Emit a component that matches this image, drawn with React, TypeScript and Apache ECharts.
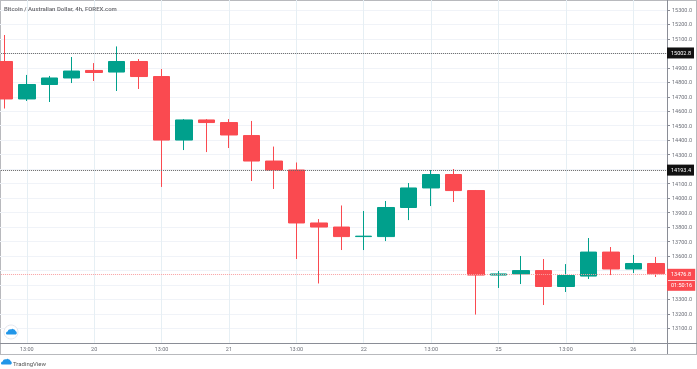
import React, { useEffect, useRef } from "react";
import * as echarts from "echarts";

const categories = ["19","13:00","","","20","","","13:00","","","21","","","13:00","","","22","","","13:00","","","25","","","13:00","","","26",""];
const opens = [14944,14685,14785,14830,14882,14871,14944,14840,14401,14540,14522,14432,14256,14194,13828,13800,13734,13734,13935,14070,14163,14052,13468,13476,13499,13389,13461,13627,13510,13548];
const closes = [14685,14785,14830,14878,14868,14944,14840,14401,14540,14522,14436,14256,14194,13828,13800,13734,13737,13935,14070,14163,14052,13468,13476,13499,13389,13465,13627,13510,13548,13476.8];
const lows = [14619,14671,14664,14795,14809,14740,14754,14077,14332,14318,14346,14118,14063,13579,13410,13641,13641,13703,13848,13945,13973,13195,13379,13406,13261,13351,13441,13468,13482,13455];
const highs = [15127,14851,14844,14975,14933,15048,14961,14892,14546,14546,14546,14533,14356,14246,13855,13949,13911,13980,14104,14194,14201,14056,13496,13600,13579,13544,13724,13662,13607,13593];
const yTicksMin = 13000;
const yTicksMax = 15400;
const coveredTicks = new Set([15000, 14200, 13500, 13400]);
const levels = [15002.8, 14193.4];
const lastPrice = 13476.8;
const countdown = "01:50:16";
const labelled = new Set([1,4,7,10,13,16,19,22,25,28]);

const UP = "#00a08c";
const DOWN = "#fa4a50";
const logo = "M0 9 C0 7 1.5 6 3 6 C3.5 3 6 1.5 8.5 2.5 C9.5 1 12 1 13 2.5 C14.5 2 16 3.5 15.5 5 C17 5.5 18 7 18 8.5 C18 10 17 11 15.5 11 L2 11 C1 11 0 10 0 9 Z";

const DX = 7;
const DY = 5;

export default function App() {
  const ref = useRef<HTMLDivElement>(null);
  useEffect(() => {
    document.body.style.margin = "0";
    document.body.style.background = "#fff";
    echarts.graphic.registerShape("tvlogo", echarts.graphic.extendPath(logo, {}));
    const chart = echarts.init(ref.current!, undefined, { renderer: "svg" });
    const data = opens.map((o, i) => [o, closes[i], lows[i], highs[i]]);
    const font = "Roboto, Arial, sans-serif";
    chart.setOption({
      animation: false,
      grid: { left: 0.1, right: 30, top: 0.5, bottom: 26.2 },
      xAxis: {
        type: "category",
        data: categories,
        boundaryGap: true,
        axisLine: { lineStyle: { color: "#8a8d96", width: 1 } },
        axisTick: { show: false },
        axisLabel: { interval: (i: number) => labelled.has(i), fontSize: 5.5, color: "#6e717a", fontFamily: font, margin: 3 },
        splitLine: { show: true, alignWithLabel: true, interval: (i: number) => labelled.has(i), lineStyle: { color: "#e6eff4" } },
      },
      yAxis: {
        type: "value",
        position: "right",
        min: yTicksMin,
        max: yTicksMax,
        interval: 100,
        axisLine: { show: true, lineStyle: { color: "#8a8d96" } },
        axisTick: { show: true, length: 3, lineStyle: { color: "#8a8d96" } },
        axisLabel: { showMinLabel: false, showMaxLabel: false, fontSize: 5.5, color: "#6e717a", fontFamily: font, margin: 5, formatter: (v: number) => (coveredTicks.has(v) ? "" : v.toFixed(1)) },
        splitLine: { show: true, lineStyle: { color: "#f0f3f8" } },
      },
      series: [{
        type: "candlestick",
        data,
        barWidth: 17,
        clip: true,
        itemStyle: { color: UP, color0: DOWN, borderColor: UP, borderColor0: DOWN, borderWidth: 1, opacity: 1 },
        markLine: {
          silent: true,
          symbol: "none",
          animation: false,
          data: [
            ...levels.map((v) => ({
              yAxis: v,
              lineStyle: { color: "#666", type: [1, 1], width: 1 },
              label: { show: true, position: "end", distance: 0, formatter: v.toFixed(1), backgroundColor: "#111", color: "#fff", fontSize: 5.5, fontFamily: font, padding: [2.5, 3, 2.5, 4] },
            })),
            {
              yAxis: lastPrice,
              lineStyle: { color: "#f9a0a3", type: [1, 1], width: 1 },
              label: { show: true, position: "end", distance: 0, formatter: lastPrice.toFixed(1) + "\n" + countdown, backgroundColor: DOWN, color: "#fff", fontSize: 5.5, lineHeight: 11, fontFamily: font, padding: [0, 3, 0, 4], offset: [0, 6] },
            },
          ],
        },
      }],
      graphic: [
        { type: "rect", shape: { x: DX, y: DY, width: 697, height: 1 }, style: { fill: "#b8b9bd" } },
        { type: "rect", shape: { x: DX, y: DY, width: 1, height: 354 }, style: { fill: "#b8b9bd" } },
        { type: "rect", shape: { x: 696 + DX, y: DY, width: 1, height: 354 }, style: { fill: "#b8b9bd" } },
        { type: "rect", shape: { x: DX, y: 354 + DY, width: 697, height: 1 }, style: { fill: "#b8b9bd" } },
        { type: "rect", shape: { x: 667 + DX, y: 343 + DY, width: 30, height: 1 }, style: { fill: "#8a8d96" } },
        { type: "rect", shape: { x: 667 + DX, y: 343 + DY, width: 1, height: 11 }, style: { fill: "#8a8d96" } },
        { type: "rect", shape: { x: 668 + DX, y: 280 + DY, width: 28, height: 1 }, z: 50, style: { fill: "#fbd0d2" } },
        { type: "circle", shape: { cx: 11 + DX, cy: 332 + DY, r: 7 }, z: 50, style: { fill: "#fff", stroke: "#e4e7ee", lineWidth: 1 } },
        { type: "tvlogo", x: 6 + DX, y: 328 + DY, scaleX: 0.6, scaleY: 0.6, z: 51, style: { fill: "#2196e8" } },
        { type: "tvlogo", x: 1 + DX, y: 358 + DY, scaleX: 0.6, scaleY: 0.6, style: { fill: "#2196e8" } },
        { type: "text", x: 4 + DX, y: 5 + DY, z: 60, style: { text: "Bitcoin / Australian Dollar, 4h, FOREX.com", fontSize: 6, fontWeight: 600, fill: "#6e6e72", fontFamily: font } },
        { type: "text", x: 13 + DX, y: 360 + DY, style: { text: "TradingView", fontSize: 6, fill: "#555", fontFamily: font } },
      ],
    });
    return () => chart.dispose();
  }, []);
  return (
    <div style={{ position: "relative", width: 697, height: 369, overflow: "hidden", filter: "blur(0.3px)" }}>
      <div ref={ref} style={{ position: "absolute", left: -DX, top: -DY, width: 697 + DX, height: 369 + DY }} />
    </div>
  );
}
